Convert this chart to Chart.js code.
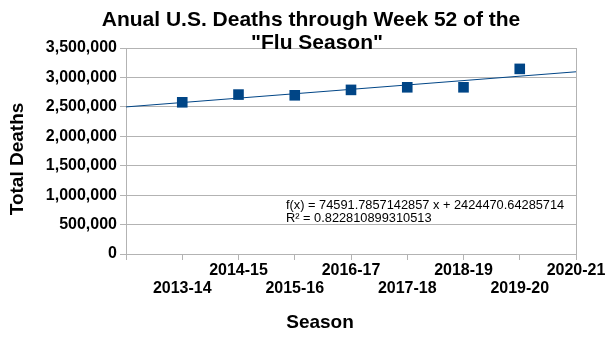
<!DOCTYPE html>
<html>
<head>
<meta charset="utf-8">
<script src="https://cdn.jsdelivr.net/npm/chart.js@4/dist/chart.umd.min.js"></script>
<style>
  html, body { margin: 0; padding: 0; background: #fff; }
  canvas { display: block; }
</style>
</head>
<body>
<canvas id="chart" width="605" height="338"></canvas>
<script>
// categorias y valores
const seasons = ['2013-14', '2014-15', '2015-16', '2016-17', '2017-18', '2018-19', '2019-20', '2020-21'];
const deaths = [2577600, 2708500, 2696600, 2788300, 2832500, 2832500, 3145100];
const yTicks = [0, 500000, 1000000, 1500000, 2000000, 2500000, 3000000, 3500000];

// linea de tendencia (coeficientes mostrados en el grafico)
const TREND_SLOPE = 74591.7857142857;
const TREND_INTERCEPT = 2424470.64285714;
const TREND_R2 = 0.822810899310513;

const FONT = '"Liberation Sans", Arial, sans-serif';
const BLUE = '#004586';
const GRID = '#b3b3b3';

// el eje x empieza una posicion antes de la primera temporada
const X_OFFSET = 2;
const X_MIN = 1;
const X_MAX = seasons.length + X_OFFSET - 1;

function seasonLabel(value) {
    const idx = value - X_OFFSET;
    if (idx < 0 || idx >= seasons.length) return '';
    // etiquetas escalonadas en dos filas
    return idx % 2 === 1 ? [seasons[idx], ''] : ['', seasons[idx]];
}

const points = deaths.map((d, i) => ({ x: i + X_OFFSET, y: d }));
const trend = [X_MIN, X_MAX].map(x => ({ x: x, y: TREND_SLOPE * x + TREND_INTERCEPT }));

// titulos y texto de la ecuacion
const textPlugin = {
    id: 'texts',
    afterDraw(chart) {
        const ctx = chart.ctx;
        ctx.save();
        ctx.fillStyle = '#000';
        ctx.textBaseline = 'alphabetic';
        ctx.textAlign = 'center';
        ctx.font = 'bold 21px ' + FONT;
        ctx.fillText('Anual U.S. Deaths through Week 52 of the', 311, 25.5);
        ctx.fillText('"Flu Season"', 317, 48.5);

        ctx.font = 'bold 19px ' + FONT;
        ctx.fillText('Season', 320, 328);
        ctx.save();
        ctx.translate(23, 159);
        ctx.rotate(-Math.PI / 2);
        ctx.fillText('Total Deaths', 0, 0);
        ctx.restore();

        ctx.textAlign = 'left';
        ctx.font = '12.8px ' + FONT;
        ctx.fillText('f(x) = ' + TREND_SLOPE + ' x + ' + TREND_INTERCEPT, 286, 208.5);
        ctx.fillText('R\u00B2 = ' + TREND_R2, 286, 222);
        ctx.restore();
    }
};

new Chart(document.getElementById('chart'), {
    type: 'scatter',
    data: {
        datasets: [{
            data: points,
            pointStyle: 'rect',
            pointRadius: 7.5,
            pointHoverRadius: 7.5,
            backgroundColor: BLUE,
            borderColor: BLUE,
            borderWidth: 0,
            showLine: false
        }, {
            data: trend,
            showLine: true,
            borderColor: BLUE,
            borderWidth: 1,
            pointRadius: 0,
            fill: false
        }]
    },
    options: {
        responsive: false,
        animation: false,
        devicePixelRatio: 1,
        layout: { padding: { top: 48, right: 29, left: 0, bottom: 0 } },
        plugins: {
            legend: { display: false },
            tooltip: { enabled: false }
        },
        scales: {
            x: {
                type: 'linear',
                min: X_MIN,
                max: X_MAX,
                afterBuildTicks: scale => {
                    scale.ticks = [];
                    for (let v = X_MIN; v <= X_MAX; v++) scale.ticks.push({ value: v });
                },
                afterFit: scale => {
                    scale.height = 84;
                    scale.paddingLeft = 0;
                    scale.paddingRight = 0;
                },
                grid: {
                    drawOnChartArea: true,
                    color: c => (c.tick && c.tick.value === X_MAX) ? GRID : 'rgba(0,0,0,0)',
                    tickColor: GRID,
                    tickLength: 6
                },
                border: { color: GRID },
                ticks: {
                    autoSkip: false,
                    maxRotation: 0,
                    padding: 2,
                    color: '#000',
                    font: { family: FONT, size: 16, weight: 'bold', lineHeight: 1.1 },
                    callback: v => seasonLabel(v)
                }
            },
            y: {
                min: yTicks[0],
                max: yTicks[yTicks.length - 1],
                afterBuildTicks: scale => {
                    scale.ticks = yTicks.map(v => ({ value: v }));
                },
                afterFit: scale => {
                    scale.width = 126;
                    scale.paddingTop = 0;
                    scale.paddingBottom = 0;
                },
                grid: { color: GRID, tickColor: GRID, tickLength: 6 },
                border: { color: GRID },
                ticks: {
                    padding: 3,
                    color: '#000',
                    font: { family: FONT, size: 16, weight: 'bold' },
                    callback: v => v.toLocaleString('en-US')
                }
            }
        }
    },
    plugins: [textPlugin]
});
</script>
</body>
</html>
